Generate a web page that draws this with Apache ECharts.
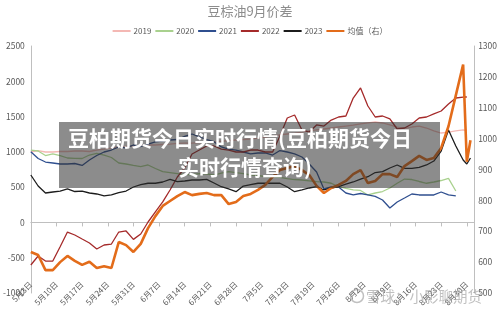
<!DOCTYPE html>
<html>
<head>
<meta charset="utf-8">
<script src="https://cdn.jsdelivr.net/npm/echarts@6/dist/echarts.min.js"></script>
<style>
  html, body { margin: 0; padding: 0; background: #fff; }
  #chart { width: 500px; height: 312px; }
</style>
</head>
<body>
<div id="chart"></div>
<script>
// day offsets from 5月3日
var days = [0,2,4,6,8,10,12,14,16,18,20,22,24,26,28,30,32,34,36,38,40,42,44,46,48,50,52,54,56,58,
  60,62,64,66,68,70,72,74,76,78,80,82,84,86,88,90,92,94,96,98,100,102,104,106,108,110,112,114,116,118,119,120];

var s2019 = [998,1019,998,998,1005,1005,1012,1012,1005,1026,1040,1055,1069,1076,1083,1090,1097,1097,1104,1111,
  1121,1125,1125,1130,1135,1140,1150,1160,1168,1175,1182,1195,1210,1225,1240,1253,1265,1280,1296,1310,
  1324,1338,1352,1366,1380,1395,1410,1423,1409,1381,1352,1331,1352,1366,1338,1296,1267,1281,1296,1310,1305,null];
var s2020 = [1026,1012,948,970,948,913,908,906,955,977,955,920,842,828,807,790,814,764,719,707,
  693,676,679,693,686,672,700,719,705,693,672,665,648,644,639,622,608,601,590,577,
  573,555,506,481,460,453,389,417,438,488,555,615,608,580,555,573,594,625,445,null,null,null];
var s2021 = [1002,906,856,842,828,828,835,807,885,948,998,1026,1069,1055,1097,1076,1111,1140,1154,1168,
  1175,1218,1253,1211,1175,1144,1069,1040,1026,998,970,984,984,955,1019,998,970,927,828,715,
  474,502,502,417,389,410,389,368,318,204,290,346,403,389,389,389,431,389,375,null,null,null];
var s2022 = [-603,-476,-547,-547,-344,-136,-178,-235,-291,-377,-320,-306,-136,-121,-240,-164,6,148,290,460,
  644,771,970,1026,1083,1083,1040,1026,998,998,1026,1026,998,998,1225,1480,1522,1310,1281,1381,
  1366,1451,1494,1508,1763,1905,1650,1494,1508,1466,1324,1338,1395,1480,1494,1537,1579,1678,1763,1777,1777,null];
var s2023 = [672,516,417,431,445,474,438,445,417,403,375,389,421,445,502,537,555,555,573,611,
  577,587,601,601,611,559,506,474,435,516,537,555,555,555,555,502,435,460,488,506,
  460,488,506,544,573,615,648,707,719,771,814,767,767,781,814,870,1012,1310,1083,885,828,913];
var avgRight = [633,623,574,574,600,620,604,591,601,581,587,581,665,655,633,659,710,749,782,798,
  814,827,817,821,824,817,817,788,795,814,821,834,850,876,898,905,911,898,882,847,
  824,840,850,863,885,898,856,863,885,885,876,911,927,944,931,937,970,1040,1140,1240,925,995];

var names = ['2019','2020','2021','2022','2023','均值（右）'];
var colors = ['#F4B8B4','#A9D18E','#2F4F8F','#A52A2A','#1C1C1C','#E36C1A'];
var font = 'Noto Sans CJK SC';

function pairs(vals) {
  return days.map(function (d, i) { return [d, vals[i]]; });
}

var chart = echarts.init(document.getElementById('chart'));

var seriesData = [s2019, s2020, s2021, s2022, s2023, avgRight];
var series = seriesData.map(function (vals, i) {
  return {
    name: names[i],
    type: 'line',
    yAxisIndex: i === 5 ? 1 : 0,
    data: pairs(vals),
    symbol: 'none',
    lineStyle: { color: colors[i], width: i === 5 ? 2.6 : 1.3 },
    itemStyle: { color: colors[i] },
    animation: false
  };
});

function plain(v) { return String(v); }

chart.setOption({
  animation: false,
  title: {
    text: '豆棕油9月价差',
    left: 'center',
    top: 0,
    textStyle: { fontSize: 13, fontWeight: 'normal', color: '#8c8c8c', fontFamily: font }
  },
  legend: {
    top: 22,
    left: 'center',
    icon: 'rect',
    itemWidth: 18,
    itemHeight: 2,
    itemGap: 4,
    textStyle: { fontSize: 8, color: '#595959', fontFamily: font, padding: [0, 0, 0, -2] },
    data: names
  },
  grid: { left: 25, right: 20, top: 46, bottom: 19 },
  xAxis: {
    type: 'value',
    min: 0,
    max: 121,
    interval: 7,
    offset: -15,
    splitLine: { show: false },
    axisLine: { show: true, lineStyle: { color: '#bfbfbf' } },
    axisTick: { show: true, length: 4, lineStyle: { color: '#bfbfbf' } },
    axisLabel: {
      rotate: 45,
      fontSize: 8,
      color: '#595959',
      fontFamily: font,
      margin: 5,
      showMaxLabel: false,
      formatter: function (v) {
        if (v % 7 !== 0) return '';
        var dt = new Date(2023, 4, 3 + v);
        return (dt.getMonth() + 1) + '月' + dt.getDate() + '日';
      }
    }
  },
  yAxis: [
    {
      type: 'value',
      min: -1000,
      max: 2500,
      interval: 500,
      splitLine: { show: false },
      axisLine: { show: true, lineStyle: { color: '#bfbfbf' } },
      axisTick: { show: false },
      axisLabel: { fontSize: 8.5, color: '#595959', fontFamily: font, margin: 6, formatter: plain }
    },
    {
      type: 'value',
      min: 500,
      max: 1300,
      interval: 100,
      position: 'right',
      splitLine: { show: false },
      axisLine: { show: true, lineStyle: { color: '#bfbfbf' } },
      axisTick: { show: false },
      axisLabel: { fontSize: 8.5, color: '#595959', fontFamily: font, margin: 4, formatter: plain }
    }
  ],
  series: series,
  graphic: [
    {
      type: 'rect',
      z: 100,
      shape: { x: 59, y: 122, width: 381, height: 66 },
      style: { fill: 'rgba(45,45,45,0.55)' }
    },
    {
      type: 'text',
      z: 101,
      x: 240,
      y: 138,
      style: {
        text: '豆柏期货今日实时行情(豆柏期货今日',
        fill: '#fff',
        font: 'bold 21px "Noto Sans CJK SC"',
        textAlign: 'center',
        textVerticalAlign: 'middle'
      }
    },
    {
      type: 'text',
      z: 101,
      x: 245,
      y: 167,
      style: {
        text: '实时行情查询)',
        fill: '#fff',
        font: 'bold 21px "Noto Sans CJK SC"',
        textAlign: 'center',
        textVerticalAlign: 'middle'
      }
    },
    {
      type: 'circle',
      z: 101,
      shape: { cx: 357, cy: 296, r: 6.5 },
      style: { fill: 'none', stroke: 'rgba(150,150,150,0.6)', lineWidth: 1.5 }
    },
    {
      type: 'text',
      z: 101,
      x: 366,
      y: 296,
      style: {
        text: '雪球：小影聊期货',
        fill: 'rgba(150,150,150,0.6)',
        font: '14.5px "Noto Sans CJK SC"',
        textAlign: 'left',
        textVerticalAlign: 'middle'
      }
    }
  ]
});
</script>
</body>
</html>
